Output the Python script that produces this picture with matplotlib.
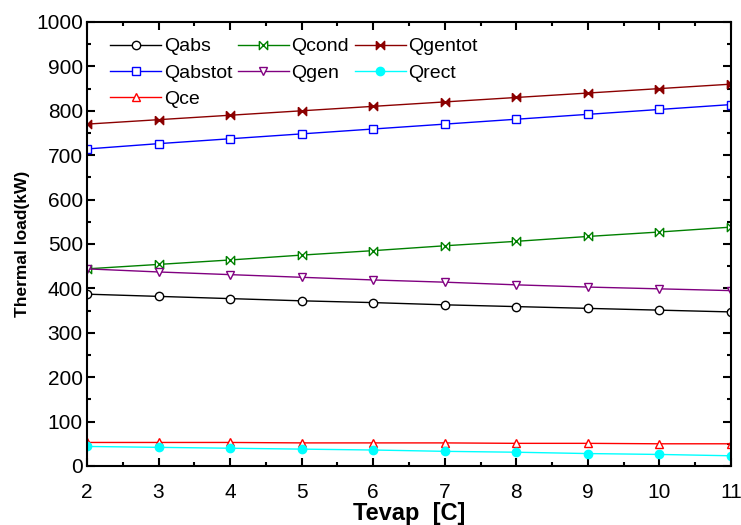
import matplotlib.pyplot as plt
from matplotlib.ticker import MultipleLocator

plt.rcParams['font.family'] = ['Liberation Sans', 'DejaVu Sans']

tevap = [2, 3, 4, 5, 6, 7, 8, 9, 10, 11]
q_abs = [387, 382, 377, 372, 368, 363, 359, 355, 351, 347]
q_abstot = [714, 726, 737, 748, 759, 770, 781, 792, 803, 814]
q_ce = [53, 53, 53, 52, 52, 52, 51, 51, 50, 50]
q_cond = [444, 454, 464, 475, 485, 496, 506, 517, 527, 538]
q_gen = [444, 437, 431, 425, 419, 414, 408, 403, 399, 395]
q_gentot = [770, 780, 790, 800, 810, 820, 830, 840, 850, 860]
q_rect = [44, 42, 40, 38, 36, 33, 31, 28, 26, 23]

# bow-tie marker like the original software uses
bowtie = [(-1, 1), (1, -1), (1, 1), (-1, -1), (-1, 1)]

fig = plt.figure(figsize=(7.41, 5.25), dpi=100)
ax = fig.add_axes([0.1174, 0.1124, 0.8691, 0.8457])

ax.plot(tevap, q_abs, color='black', marker='o', mfc='white', mec='black', ms=6, lw=1, label='Qabs')
ax.plot(tevap, q_abstot, color='blue', marker='s', mfc='white', mec='blue', ms=6, lw=1, label='Qabstot')
ax.plot(tevap, q_ce, color='red', marker='^', mfc='white', mec='red', ms=6, lw=1, label='Qce')
ax.plot(tevap, q_cond, color='green', marker=bowtie, mfc='white', mec='green', ms=6, lw=1, label='Qcond')
ax.plot(tevap, q_gen, color='purple', marker='v', mfc='white', mec='purple', ms=6, lw=1, label='Qgen')
ax.plot(tevap, q_gentot, color='darkred', marker=bowtie, mfc='darkred', mec='darkred', ms=6, lw=1, label='Qgentot')
ax.plot(tevap, q_rect, color='cyan', marker='o', mfc='cyan', mec='cyan', ms=6, lw=1, label='Qrect')

ax.set_xlim(2, 11)
ax.set_ylim(0, 1000)
ax.xaxis.set_major_locator(MultipleLocator(1))
ax.xaxis.set_minor_locator(MultipleLocator(0.5))
ax.yaxis.set_major_locator(MultipleLocator(100))
ax.yaxis.set_minor_locator(MultipleLocator(50))
ax.tick_params(which='both', direction='in', top=True, right=True, width=1.5)
ax.tick_params(which='major', length=6, labelsize=15)
ax.tick_params(axis='x', which='major', pad=12)
ax.tick_params(axis='y', which='major', pad=3)
ax.tick_params(which='minor', length=3)
for s in ax.spines.values():
    s.set_linewidth(1.5)

ax.set_xlabel('Tevap  [C]', fontsize=17, fontweight='bold', labelpad=0)
ax.set_ylabel('Thermal load(kW)', fontsize=12.5, fontweight='bold', labelpad=4)

ax.legend(loc='upper left', ncol=3, frameon=False, fontsize=14, handlelength=2.6,
          columnspacing=0.3, handletextpad=0.15, labelspacing=0.45,
          bbox_to_anchor=(0.015, 0.995), borderaxespad=0.3)

fig.savefig('out.png', dpi=100)
